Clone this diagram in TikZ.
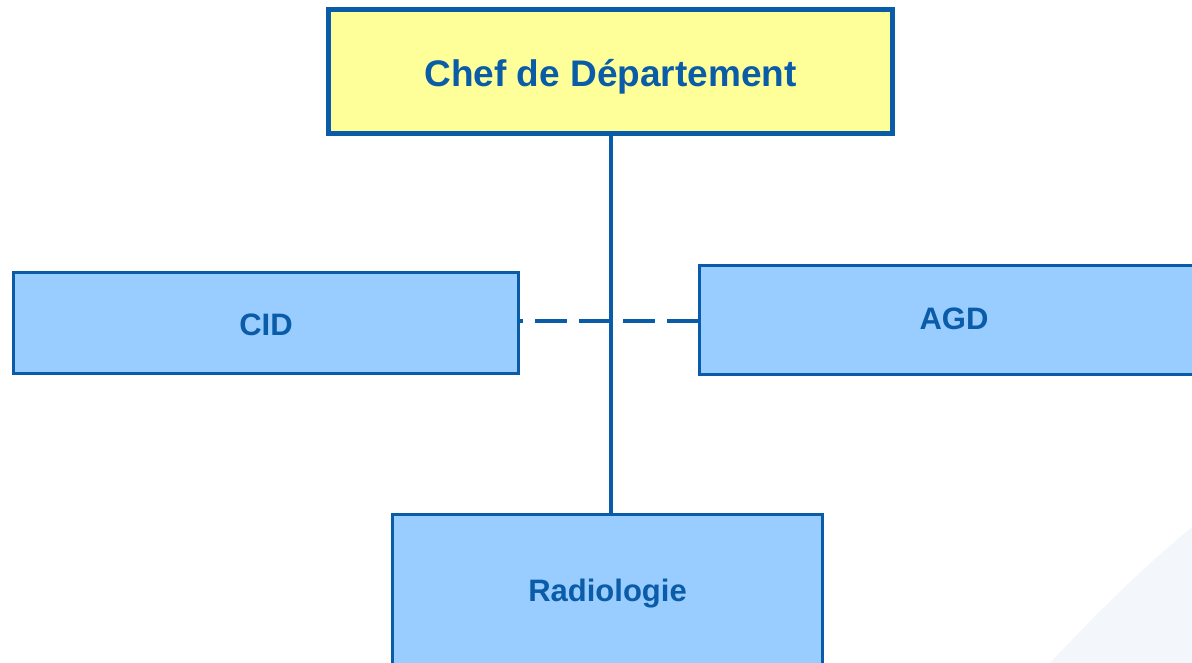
\documentclass[tikz,border=0pt]{standalone}
\usepackage{fontspec}
\setmainfont{Liberation Sans}
\definecolor{dblue}{RGB}{10,92,168}
\definecolor{lblue}{RGB}{153,204,255}
\definecolor{lyellow}{RGB}{255,255,153}
\definecolor{bgcurve}{RGB}{243,246,251}
\begin{document}
\begin{tikzpicture}[x=1pt,y=-1pt,
  topbox/.style={draw=dblue,fill=lyellow,line width=5pt,inner sep=0pt,
    text=dblue,font=\fontsize{37}{42}\selectfont\bfseries,text depth=0pt},
  unitbox/.style={draw=dblue,fill=lblue,line width=3pt,inner sep=0pt,
    text=dblue,font=\fontsize{31}{36}\selectfont\bfseries,text depth=0pt},
  link/.style={draw=dblue,line width=4pt}]
\useasboundingbox (0,0) rectangle (1192,663);
\clip (0,0) rectangle (1192,663);
\fill[bgcurve] (1192,527) .. controls (1140,570) and (1090,620) .. (1050,663) -- (1192,663) -- cycle;
\node[topbox,minimum width=564pt,minimum height=124pt,text height=31pt] (chef) at (610.5,71.5) {Chef de Département};
\node[unitbox,minimum width=505pt,minimum height=101pt,text height=24pt] (cid) at (266,323) {CID};
\node[unitbox,minimum width=509pt,minimum height=109pt,text height=18pt] (agd) at (954,320) {AGD};
\node[unitbox,minimum width=430pt,minimum height=152pt,text height=21pt] (rad) at (607.5,590.5) {Radiologie};
\draw[link] (chef.south) -- (chef.south |- rad.north);
\draw[link,dash pattern=on 32pt off 12pt,dash phase=29pt] (cid.east |- 0,321) -- (agd.west |- 0,321);
\end{tikzpicture}
\end{document}
